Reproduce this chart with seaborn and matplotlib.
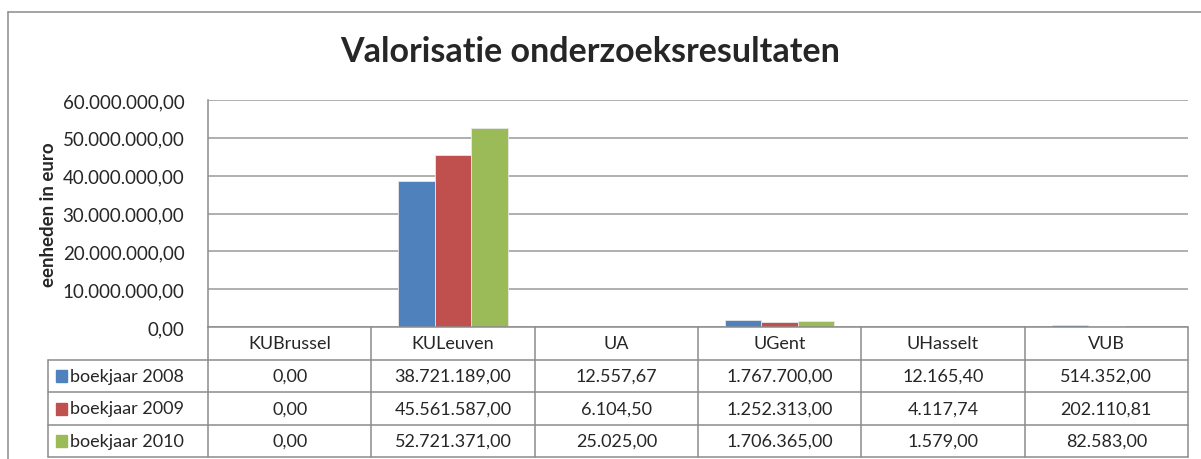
import pandas as pd
import numpy as np
import matplotlib
matplotlib.use("Agg")
import matplotlib.pyplot as plt
from matplotlib.ticker import FuncFormatter
from matplotlib.lines import Line2D
from matplotlib.patches import Rectangle
import seaborn as sns

universiteiten = ["KUBrussel", "KULeuven", "UA", "UGent", "UHasselt", "VUB"]
reeksen = ["boekjaar 2008", "boekjaar 2009", "boekjaar 2010"]
boekjaar_2008 = [0.00, 38721189.00, 12557.67, 1767700.00, 12165.40, 514352.00]
boekjaar_2009 = [0.00, 45561587.00, 6104.50, 1252313.00, 4117.74, 202110.81]
boekjaar_2010 = [0.00, 52721371.00, 25025.00, 1706365.00, 1579.00, 82583.00]
kleuren = ["#4F81BD", "#C0504D", "#9BBB59"]

waarden = [boekjaar_2008, boekjaar_2009, boekjaar_2010]
df = pd.DataFrame({
    "universiteit": universiteiten * 3,
    "reeks": np.repeat(reeksen, len(universiteiten)),
    "waarde": boekjaar_2008 + boekjaar_2009 + boekjaar_2010,
})


def nl(v):
    # Dutch number format: 1.234.567,89
    s = f"{v:,.2f}"
    return s.replace(",", "X").replace(".", ",").replace("X", ".")


sns.set_style("white")
plt.rcParams["font.family"] = ["Lato", "DejaVu Sans"]

W, H = 1201, 460
fig = plt.figure(figsize=(W / 100, H / 100), dpi=100)


def fx(x):
    return x / W


def fy(y):
    return 1 - y / H


left, right, top, bottom = 208, 1188, 101, 328
ax = fig.add_axes([fx(left), fy(bottom), fx(right - left), (bottom - top) / H])

sns.barplot(data=df, x="universiteit", y="waarde", hue="reeks", palette=kleuren,
            width=0.67, ax=ax, legend=False, edgecolor="#e8e8e8", linewidth=0.6,
            saturation=1)

ax.set_ylim(0, 60000000)
ax.set_xlim(-0.5, len(universiteiten) - 0.5)
ax.set_yticks(np.arange(0, 60000001, 10000000))
ax.yaxis.set_major_formatter(FuncFormatter(lambda v, p: nl(v)))
ax.grid(axis="y", color="#9a9a9a", linewidth=1.1)
ax.set_axisbelow(True)
ax.set_xticks([])
ax.set_xlabel("")
ax.set_ylabel("eenheden in euro", fontsize=13.5, fontweight="bold", labelpad=4)
ax.tick_params(axis="y", labelsize=13.5, pad=17, length=0)
for s in ["top", "right", "bottom"]:
    ax.spines[s].set_visible(False)
ax.spines["left"].set_color("#8c8c8c")
ax.spines["left"].set_linewidth(1.1)

# chart title
fig.text(fx(590), fy(52), "Valorisatie onderzoeksresultaten", ha="center", va="center",
         fontsize=24.5, fontweight="bold")

# outer chart border
lc = "#8c8c8c"
fig.add_artist(Line2D([fx(8), fx(8)], [fy(13), 0], color=lc, lw=1.1))
fig.add_artist(Line2D([fx(8), 1], [fy(13), fy(13)], color=lc, lw=1.1))

# data table below the chart
colw = (right - left) / len(universiteiten)
rows = [328, 361, 393, 426, 458]
lab_left = 48

fig.add_artist(Line2D([fx(left), fx(right)], [fy(rows[0])] * 2, color=lc, lw=1.1))
for r in rows[1:]:
    fig.add_artist(Line2D([fx(lab_left), fx(right)], [fy(r)] * 2, color=lc, lw=1.1))
fig.add_artist(Line2D([fx(lab_left)] * 2, [fy(rows[1]), fy(rows[-1])], color=lc, lw=1.1))
for k in range(len(universiteiten) + 1):
    x = left + k * colw
    fig.add_artist(Line2D([fx(x)] * 2, [fy(rows[0]), fy(rows[-1])], color=lc, lw=1.1))

for k, naam in enumerate(universiteiten):
    cx = left + (k + 0.5) * colw
    fig.text(fx(cx), fy((rows[0] + rows[1]) / 2), naam, ha="center", va="center", fontsize=13)
    for i, reeks in enumerate(waarden):
        fig.text(fx(cx), fy((rows[i + 1] + rows[i + 2]) / 2), nl(reeks[k]),
                 ha="center", va="center", fontsize=13)

for i, reeks in enumerate(reeksen):
    yc = (rows[i + 1] + rows[i + 2]) / 2
    fig.add_artist(Rectangle((fx(56), fy(yc + 6)), 11 / W, 12 / H, color=kleuren[i]))
    fig.text(fx(70), fy(yc), reeks, ha="left", va="center", fontsize=13)

fig.savefig("out.png", dpi=100)
